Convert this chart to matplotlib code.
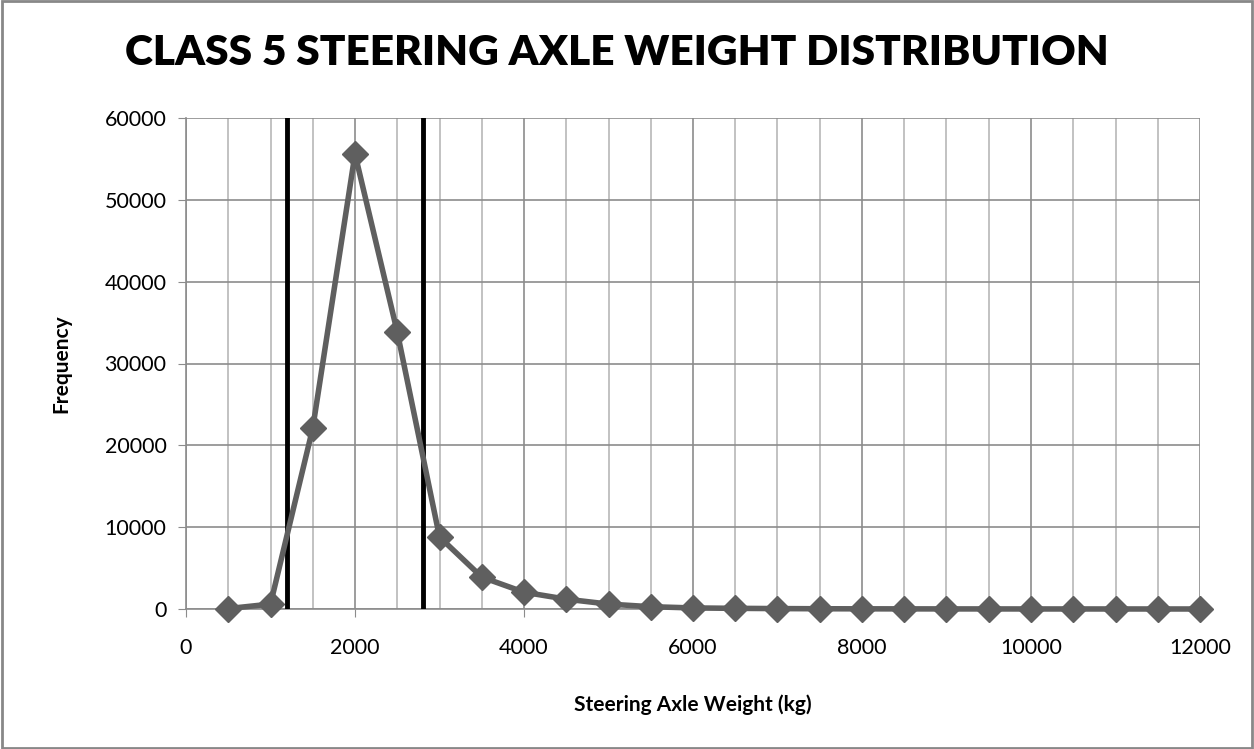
import matplotlib.pyplot as plt
from matplotlib.patches import Rectangle
import numpy as np

weights = [500, 1000, 1500, 2000, 2500, 3000, 3500, 4000, 4500, 5000, 5500, 6000,
           6500, 7000, 7500, 8000, 8500, 9000, 9500, 10000, 10500, 11000, 11500, 12000]
freq = [50, 600, 22100, 55600, 33850, 8800, 3900, 2050, 1200, 600, 280, 130,
        80, 50, 30, 20, 15, 10, 8, 5, 4, 3, 2, 2]
limits = [1200, 2800]
x_ticks = [0, 2000, 4000, 6000, 8000, 10000, 12000]
y_ticks = [0, 10000, 20000, 30000, 40000, 50000, 60000]

plt.rcParams['font.family'] = ['Lato', 'DejaVu Sans']
fig = plt.figure(figsize=(12.54, 7.49), dpi=100)
fig.patches.append(Rectangle((0.0015, 0.002), 0.997, 0.996, transform=fig.transFigure,
                             fill=False, edgecolor='#888888', linewidth=2))
W, H = 1254, 749
ax = fig.add_axes([186 / W, 1 - 609 / H, (1200 - 186) / W, (609 - 118) / H])

ax.set_xlim(0, 12000)
ax.set_ylim(0, 60000)
ax.set_xticks(x_ticks)
ax.set_yticks(y_ticks)
ax.set_xticks(np.arange(0, 12001, 500), minor=True)
ax.grid(True, which='major', axis='both', color='#8c8c8c', linewidth=1.2)
ax.grid(True, which='minor', axis='x', color='#b8b8b8', linewidth=1.2)
ax.set_axisbelow(True)
for s in ['top', 'right']:
    ax.spines[s].set_visible(False)
ax.spines['left'].set_color('#8c8c8c')
ax.spines['bottom'].set_color('#8c8c8c')
ax.spines['left'].set_linewidth(1.2)
ax.spines['bottom'].set_linewidth(1.2)
ax.tick_params(axis='both', which='major', direction='out', length=6, color='#8c8c8c',
               labelsize=15.5, pad=8)
ax.tick_params(axis='x', which='minor', length=0)
ax.tick_params(axis='x', pad=15)

for v in limits:
    ax.axvline(v, color='black', linewidth=3.5, zorder=3)

ax.plot(weights, freq, color='#5f5f5f', linewidth=4, marker='D', markersize=13,
        zorder=4, clip_on=False)

fig.text(617 / W, 1 - 53 / H, 'CLASS 5 STEERING AXLE WEIGHT DISTRIBUTION',
         ha='center', va='center', fontsize=30.5, fontweight='heavy')
ax.set_xlabel('Steering Axle Weight (kg)', fontsize=15, fontweight='bold', labelpad=26)
ax.set_ylabel('Frequency', fontsize=15, fontweight='bold', labelpad=24)

fig.savefig('out.png', dpi=100)
